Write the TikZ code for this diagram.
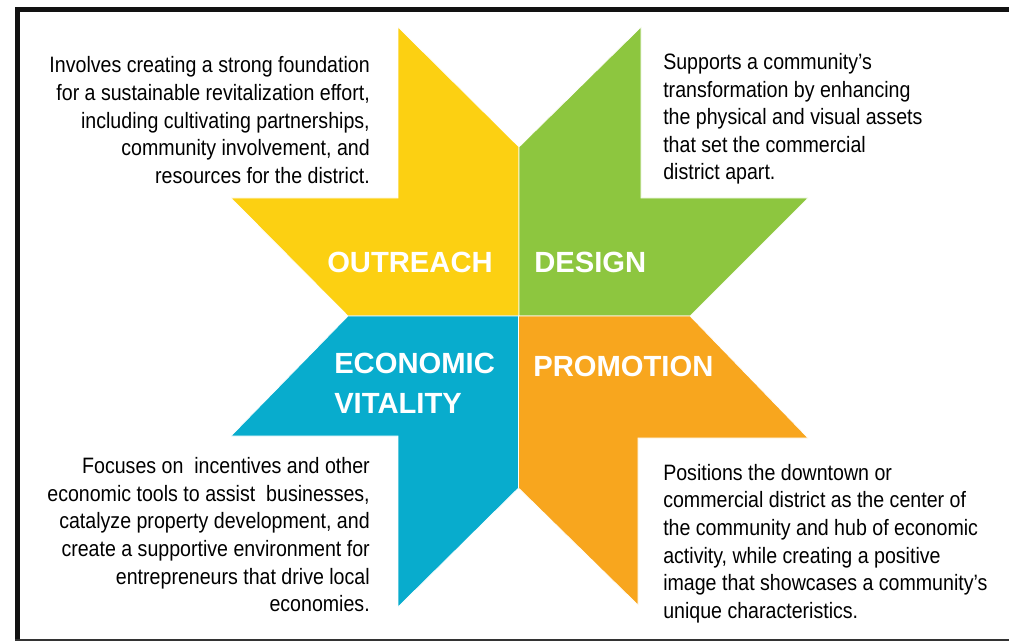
\documentclass[tikz,border=0pt]{standalone}
\usepackage{fontspec}
\setmainfont{Liberation Sans}
\newfontfamily\bodyfont[FakeStretch=0.88]{Liberation Sans}
\newfontfamily\labelfont{Liberation Sans}
\usepackage{tikz}
\definecolor{outreachyellow}{HTML}{FCD012}
\definecolor{designgreen}{HTML}{8DC63F}
\definecolor{vitalityblue}{HTML}{08ACCD}
\definecolor{promotionorange}{HTML}{F8A61E}
\tikzset{
  piece/.style={draw=white, line width=0.5},
  bodytext/.style={font=\bodyfont\fontsize{16.7pt}{20.7pt}\selectfont, inner sep=0pt},
  labeltext/.style={font=\labelfont\bfseries\fontsize{21.9pt}{29.5pt}\selectfont, text=white, inner sep=0pt, align=left}
}
\begin{document}
\begin{tikzpicture}[x=0.75pt,y=-0.75pt]
    \useasboundingbox (0,0) rectangle (1009,641);
    % frame
    \fill[black!93] (15,7) rectangle (1009,12);
    \fill[black!93] (15,7) rectangle (20,641);
    \draw[black!80, line width=1.2] (15,640) -- (1009,640);
    % the four pieces
    \fill[outreachyellow, piece] (398,27) -- (519,147) -- (519,316) -- (348,316) -- (231,198) -- (398,198) -- cycle;
    \fill[designgreen, piece] (641,27) -- (519,147) -- (519,316) -- (690,316) -- (808,198) -- (641,198) -- cycle;
    \fill[vitalityblue, piece] (348,316) -- (518.5,316) -- (518.5,488) -- (398,607) -- (398,436) -- (231,436) -- cycle;
    \fill[promotionorange, piece] (690,316) -- (518.5,316) -- (518.5,488) -- (638,605) -- (638,438) -- (808,438) -- cycle;
    % labels (base = last line)
    \node (outreach) at (327,273) [labeltext, anchor=base west] {OUTREACH};
    \node (design) at (534,273) [labeltext, anchor=base west] {DESIGN};
    \node (vitality) at (334,413.3) [labeltext, anchor=base west] {ECONOMIC\\VITALITY};
    \node (promotion) at (533,376) [labeltext, anchor=base west] {PROMOTION};
    % descriptions
    \node (outreachtext) at (370,183.3) [bodytext, anchor=base east, align=right]
      {Involves creating a strong foundation\\for a sustainable revitalization effort,\\including cultivating partnerships,\\community involvement, and\\resources for the district.};
    \node (designtext) at (663,180) [bodytext, anchor=base west, align=left]
      {Supports a community’s\\transformation by enhancing\\the physical and visual assets\\that set the commercial\\district apart.};
    \node (vitalitytext) at (370,611.7) [bodytext, anchor=base east, align=right]
      {Focuses on\ \ incentives and other\\economic tools to assist\ \ businesses,\\catalyze property development, and\\create a supportive environment for\\entrepreneurs that drive local\\economies.};
    \node (promotiontext) at (663,618.3) [bodytext, anchor=base west, align=left]
      {Positions the downtown or\\commercial district as the center of\\the community and hub of economic\\activity, while creating a positive\\image that showcases a community’s\\unique characteristics.};
\end{tikzpicture}
\end{document}
